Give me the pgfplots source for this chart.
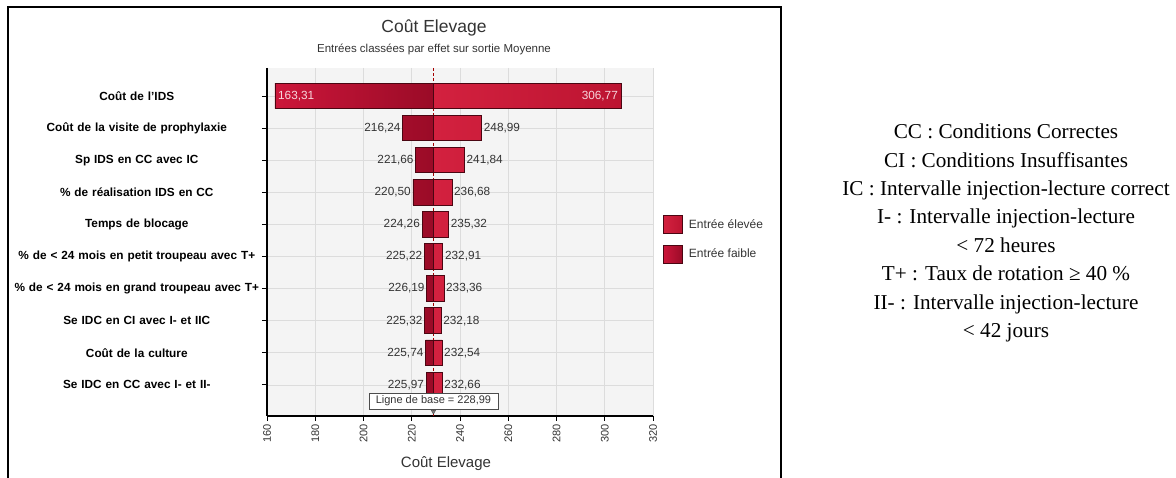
\documentclass[border=0pt]{standalone}
\usepackage{pgfplots}
\pgfplotsset{compat=1.18}
\usepackage{pgfplotstable}
\usepackage{fontspec}
\setmainfont{Liberation Sans}
\newfontfamily\timesfont{Liberation Serif}
\definecolor{elevee}{HTML}{D3213F}
\definecolor{eleveedark}{HTML}{BC1431}
\definecolor{faible}{HTML}{CC163A}
\definecolor{faibledark}{HTML}{9A0B27}
\definecolor{barborder}{HTML}{4A0612}
\definecolor{bggray}{HTML}{F4F4F4}
\definecolor{gridgray}{HTML}{DCDCDC}
\definecolor{txtgray}{HTML}{333333}
\definecolor{insidetxt}{HTML}{F7D6DC}

\pgfplotsset{sqlegend/.style={legend image code/.code={\draw[##1,/tikz/.cd] (0pt,-9pt) rectangle (19pt,9pt);}}}

\pgfplotstableread{
row low high
1 163.31 306.77
2 216.24 248.99
3 221.66 241.84
4 220.50 236.68
5 224.26 235.32
6 225.22 232.91
7 226.19 233.36
8 225.32 232.18
9 225.74 232.54
10 225.97 232.66
}\tornado
\def\base{228.99}

\begin{document}
\begin{tikzpicture}[x=1pt,y=1pt]
\useasboundingbox (0,0) rectangle (1176,478);
\draw[line width=1.3pt] (8,0) -- (8,471) -- (781,471) -- (781,0);
\node[font=\fontsize{17.5}{20}\selectfont, text=txtgray] at (434,450) {Coût Elevage};
\node[font=\fontsize{11.5}{14}\selectfont, text=txtgray] at (434,429) {Entrées classées par effet sur sortie Moyenne};
\begin{axis}[
  at={(267pt,62pt)}, anchor=south west,
  scale only axis, width=386pt, height=348pt,
  xmin=-68.99, xmax=91.01,
  ymin=0.13, ymax=10.97, y dir=reverse,
  xtick={-68.99,-48.99,-28.99,-8.99,11.01,31.01,51.01,71.01,91.01},
  xticklabels={160,180,200,220,240,260,280,300,320},
  ytick={1,...,10},
  yticklabels={Coût de l'IDS,Coût de la visite de prophylaxie,Sp IDS en CC avec IC,\% de réalisation IDS en CC,Temps de blocage,\% de < 24 mois en petit troupeau avec T+,\% de < 24 mois en grand troupeau avec T+,Se IDC en CI avec I- et IIC,Coût de la culture,Se IDC en CC avec I- et II-},
  yticklabel style={font=\bfseries\fontsize{11.8}{14}\selectfont, text width=250pt, align=center, inner sep=0pt, anchor=east},
  xticklabel style={rotate=90, anchor=east, font=\fontsize{11}{12}\selectfont, text=txtgray},
  /pgf/number format/assume math mode=true,
  axis x line*=bottom, axis y line*=left,
  axis line style={black, line width=1.2pt},
  tick align=outside, major tick length=5pt,
  tick style={black, line width=0.8pt},
  axis background/.style={fill=bggray},
  grid=major, major grid style={gridgray, line width=0.6pt},
  extra x ticks={0}, extra x tick labels={},
  extra x tick style={grid=major, major grid style={red!65!black, densely dashed, line width=0.6pt}, major tick length=0pt},
  xlabel={Coût Elevage},
  xlabel style={font=\fontsize{15}{17}\selectfont, text=txtgray, xshift=-14pt, yshift=-2pt},
  legend style={at={(1,0.578)}, anchor=north west, xshift=10pt, draw=none, fill=none, inner sep=0pt,
    font=\fontsize{12}{14}\selectfont, text=txtgray, row sep=11pt,
    nodes={inner xsep=6pt}},
  legend cell align=left,
  clip mode=individual,
]
\addplot[xbar, bar width=0.795, bar shift=0pt, draw=barborder, line width=0.8pt,
  left color=elevee, right color=eleveedark, sqlegend]
  table[x expr=\thisrow{high}-\base, y=row] {\tornado};
\addlegendentry{Entrée élevée}
\addplot[xbar, bar width=0.795, bar shift=0pt, draw=barborder, line width=0.8pt,
  left color=faible, right color=faibledark, sqlegend]
  table[x expr=\thisrow{low}-\base, y=row] {\tornado};
\addlegendentry{Entrée faible}
% labels outside
\addplot[draw=none, mark=none, forget plot, restrict y to domain=2:10,
  point meta={\thisrow{low}},
  nodes near coords={\pgfmathprintnumber[fixed,fixed zerofill,precision=2,use comma,assume math mode=true]{\pgfplotspointmeta}},
  nodes near coords style={anchor=east, font=\fontsize{11.8}{13}\selectfont, text=txtgray, inner sep=2pt}]
  table[x expr=\thisrow{low}-\base, y=row] {\tornado};
\addplot[draw=none, mark=none, forget plot, restrict y to domain=2:10,
  point meta={\thisrow{high}},
  nodes near coords={\pgfmathprintnumber[fixed,fixed zerofill,precision=2,use comma,assume math mode=true]{\pgfplotspointmeta}},
  nodes near coords style={anchor=west, font=\fontsize{11.8}{13}\selectfont, text=txtgray, inner sep=2pt}]
  table[x expr=\thisrow{high}-\base, y=row] {\tornado};
% labels inside the widest bar
\addplot[draw=none, mark=none, forget plot, restrict y to domain=1:1,
  point meta={\thisrow{low}},
  nodes near coords={\pgfmathprintnumber[fixed,fixed zerofill,precision=2,use comma,assume math mode=true]{\pgfplotspointmeta}},
  nodes near coords style={anchor=west, font=\fontsize{11.8}{13}\selectfont, text=insidetxt, inner sep=3pt}]
  table[x expr=\thisrow{low}-\base, y=row] {\tornado};
\addplot[draw=none, mark=none, forget plot, restrict y to domain=1:1,
  point meta={\thisrow{high}},
  nodes near coords={\pgfmathprintnumber[fixed,fixed zerofill,precision=2,use comma,assume math mode=true]{\pgfplotspointmeta}},
  nodes near coords style={anchor=east, font=\fontsize{11.8}{13}\selectfont, text=insidetxt, inner sep=3pt}]
  table[x expr=\thisrow{high}-\base, y=row] {\tornado};
\addplot[only marks, mark=triangle*, mark size=2.5pt, forget plot,
  mark options={rotate=180, fill=gray, draw=black!70, line width=0.5pt}]
  coordinates {(0,10.83)};
\node[draw=black!70, fill=white, line width=0.6pt, minimum width=129pt, minimum height=16pt,
  inner sep=0pt, font=\fontsize{11}{13}\selectfont, text=txtgray] at (axis cs:0,10.5) {Ligne de base = 228,99};
\end{axis}
\node[font=\timesfont\fontsize{21.2}{28.4}\selectfont, align=center] at (1006,245) {CC : Conditions Correctes\\CI : Conditions Insuffisantes\\IC : Intervalle injection-lecture correct\\I- : Intervalle injection-lecture\\< 72 heures\\T+ : Taux de rotation ≥ 40 \%\\II- : Intervalle injection-lecture\\< 42 jours};
\end{tikzpicture}
\end{document}
